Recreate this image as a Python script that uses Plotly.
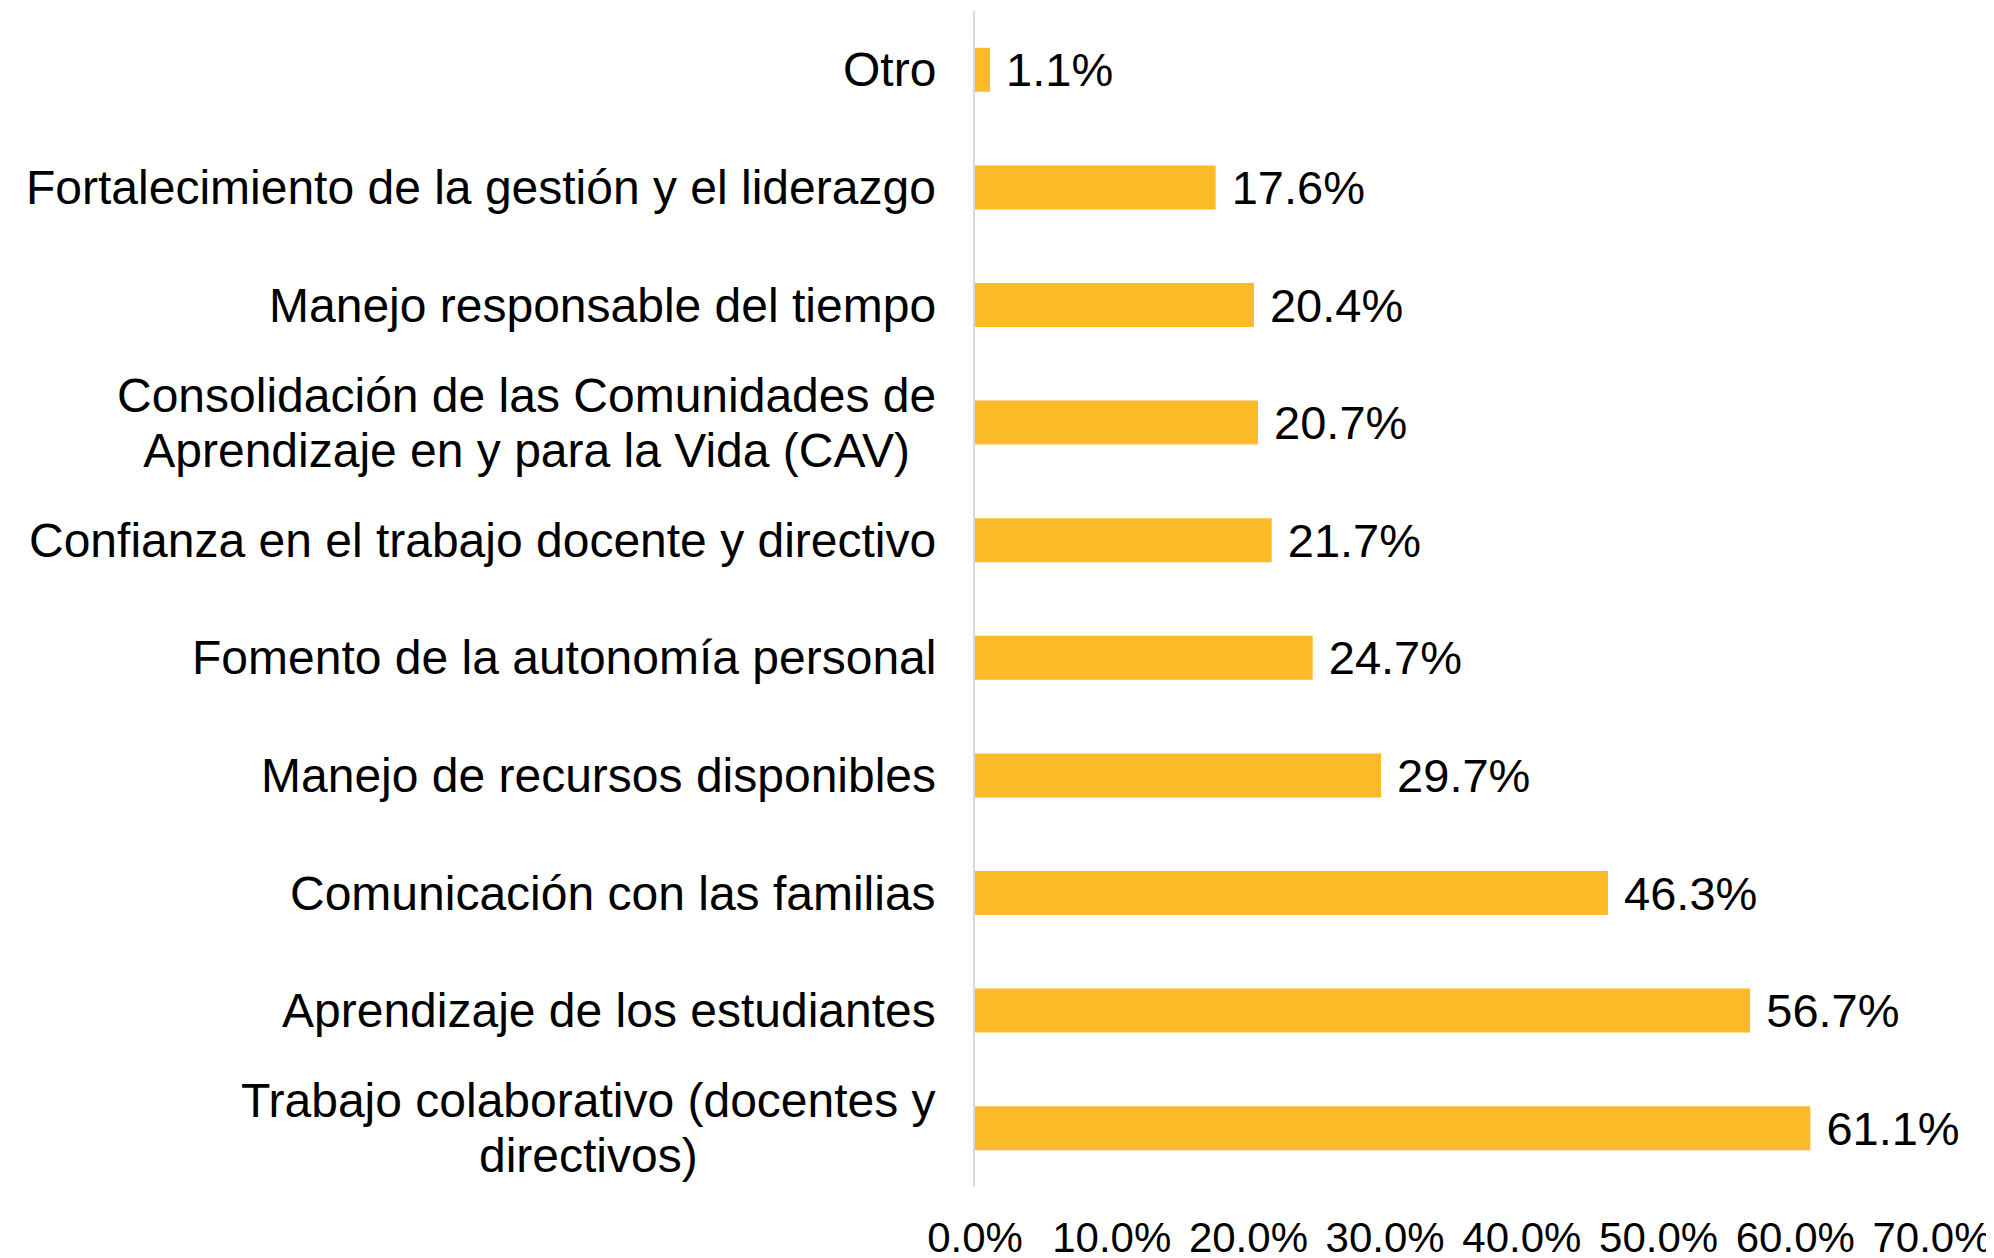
import plotly.graph_objects as go

categories = [
    "Otro",
    "Fortalecimiento de la gestión y el liderazgo",
    "Manejo responsable del tiempo",
    "Consolidación de las Comunidades de<br>Aprendizaje en y para la Vida (CAV)",
    "Confianza en el trabajo docente y directivo",
    "Fomento de la autonomía personal",
    "Manejo de recursos disponibles",
    "Comunicación con las familias",
    "Aprendizaje de los estudiantes",
    "Trabajo colaborativo (docentes y<br>directivos)",
]
values = [1.1, 17.6, 20.4, 20.7, 21.7, 24.7, 29.7, 46.3, 56.7, 61.1]

FONT = "Liberation Sans, Arial, sans-serif"
BAR_COLOR = "#FBBA27"


def big(label):
    return "<br>".join(
        f'<span style="font-size:48px">{part}</span>' for part in label.split("<br>")
    )


fig = go.Figure(
    go.Bar(
        x=values,
        y=categories,
        orientation="h",
        marker=dict(color=BAR_COLOR, line=dict(width=0)),
        text=[f" {v:.1f}%" for v in values],
        textposition="outside",
        constraintext="none",
        textfont=dict(family=FONT, size=47, color="black"),
        cliponaxis=False,
    )
)

annotations = [
    dict(
        x=0, y=c, xref="x", yref="y", text=big(c), showarrow=False,
        xanchor="right", yanchor="middle", align="center", xshift=-37,
        font=dict(family=FONT, size=42, color="black"),
    )
    for c in categories
]

fig.update_layout(
    width=1994,
    height=1258,
    margin=dict(l=967, r=70, t=3, b=79),
    paper_bgcolor="white",
    plot_bgcolor="white",
    bargap=0.626,
    showlegend=False,
    annotations=annotations,
    xaxis=dict(
        range=[0, 70],
        dtick=10,
        tick0=0,
        tickformat=".1f",
        ticksuffix="%",
        showgrid=False,
        zeroline=False,
        showline=False,
        ticks="",
        ticklabelstandoff=22,
        automargin=False,
        tickfont=dict(family=FONT, size=42, color="black"),
    ),
    yaxis=dict(
        autorange="reversed",
        showticklabels=False,
        showgrid=False,
        zeroline=False,
        showline=True,
        linecolor="#D9D9D9",
        linewidth=2,
        ticks="",
        automargin=False,
    ),
)

fig.write_html("out.html")
